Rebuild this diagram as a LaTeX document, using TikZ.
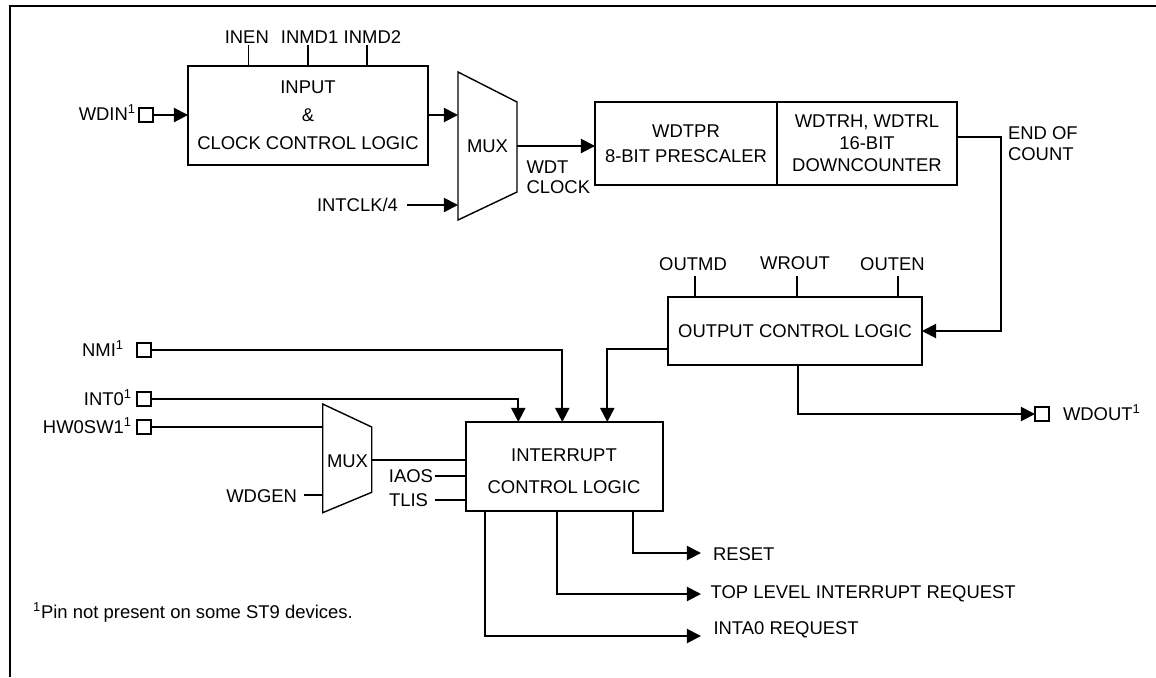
\documentclass[tikz,border=0pt]{standalone}
\usepackage{fontspec}
\setmainfont{Liberation Sans}
\usetikzlibrary{arrows.meta}
\begin{document}
\begin{tikzpicture}[x=0.02cm,y=-0.02cm,
  every node/.style={font=\fontsize{10.5}{12.6}\selectfont, inner sep=0pt, outer sep=0pt},
  wire/.style={line width=1.1pt},
  arr/.style={wire,-{Triangle[length=8pt,width=8pt]}},
  blk/.style={draw, line width=1.1pt, align=center},
  pinbox/.style={draw, line width=0.9pt, minimum size=0.28cm},
  muxshape/.style={draw, line width=0.8pt, line join=miter},
  lblr/.style={anchor=east},
  lbll/.style={anchor=west, align=left}]
\useasboundingbox (0,0) rectangle (1156,677);
% frame
\draw[line width=1.3pt] (10,677) -- (10,6) -- (1156,6);

% ---- blocks
\node[blk, minimum width=4.8cm, minimum height=1.98cm, font=\fontsize{10.5}{15.9}\selectfont] (inbox) at (308,115.5) {INPUT\\\&\\CLOCK CONTROL LOGIC};
\node[blk, minimum width=3.64cm, minimum height=1.66cm, font=\fontsize{10.5}{14.2}\selectfont] (pre) at (686,143.5) {WDTPR\\8-BIT PRESCALER};
\node[blk, minimum width=3.6cm, minimum height=1.66cm, font=\fontsize{10.5}{12.4}\selectfont] (cnt) at (867,143.5) {WDTRH, WDTRL\\16-BIT\\DOWNCOUNTER};
\node[blk, minimum width=5.08cm, minimum height=1.36cm] (out) at (795,331) {OUTPUT CONTROL LOGIC};
\node[blk, minimum width=3.94cm, minimum height=1.78cm] (icl) at (564.5,466.5) {};
\node[align=center, font=\fontsize{10.5}{18}\selectfont] (icltext) at (564,471) {INTERRUPT\\CONTROL LOGIC};

% ---- multiplexers
\coordinate (m1a) at (458,72);  \coordinate (m1b) at (517,102);
\coordinate (m1c) at (517,192); \coordinate (m1d) at (458,220);
\draw[muxshape] (m1a) -- (m1b) -- (m1c) -- (m1d) -- cycle;
\node (mux1) at (487.5,146) {MUX};
\coordinate (m2a) at (322.7,404);   \coordinate (m2b) at (371.7,427);
\coordinate (m2c) at (371.7,492.3); \coordinate (m2d) at (322.7,512.7);
\draw[muxshape] (m2a) -- (m2b) -- (m2c) -- (m2d) -- cycle;
\node (mux2) at (347.5,461.5) {MUX};

% ---- pins
\node[pinbox] (wdin) at (146,115) {};
\node[lblr] (wdinl) at (136,113) {WDIN\textsuperscript{1}};
\node[pinbox] (nmi) at (144,350) {};
\node[lblr] (nmil) at (124,348.5) {NMI\textsuperscript{1}};
\node[pinbox] (int0) at (144,399) {};
\node[lblr] (int0l) at (132,397.5) {INT0\textsuperscript{1}};
\node[pinbox] (hw) at (144,427) {};
\node[lblr] (hwl) at (132,425.5) {HW0SW1\textsuperscript{1}};
\node[pinbox] (wdout) at (1042,414) {};
\node[lbll] (wdoutl) at (1063,412.5) {WDOUT\textsuperscript{1}};

% ---- top control lines of input block
\node (inen) at (246.8,36.7) {INEN};
\node (inmd1) at (309.6,36.7) {INMD1};
\node (inmd2) at (372.4,36.7) {INMD2};
\coordinate (inenT) at (248.5,45);
\coordinate (inmd1T) at (308,45);
\coordinate (inmd2T) at (367.4,45);
\draw[wire] (inenT) -- (inenT |- inbox.north);
\draw[wire] (inmd1T) -- (inmd1T |- inbox.north);
\draw[wire] (inmd2T) -- (inmd2T |- inbox.north);

% ---- input path
\draw[arr] (wdin.east) -- (inbox.west |- wdin.east);
\draw[arr] (inbox.east |- 0,115) -- (m1a |- 0,115);
\node[lblr] (intclk) at (398,205) {INTCLK/4};
\coordinate (intclkE) at (407,205);
\draw[arr] (intclkE) -- (m1a |- intclkE);
\coordinate (m1o) at (517,146);
\draw[arr] (m1o) -- (pre.west |- m1o);
\node[lbll, font=\fontsize{10.5}{11.4}\selectfont] (wdtclk) at (526.5,177) {WDT\\CLOCK};

% ---- end of count
\coordinate (eoc) at (1001,137);
\draw[arr] (cnt.east |- eoc) -- (eoc) |- (out.east);
\node[lbll, font=\fontsize{10.5}{12}\selectfont] (eocl) at (1008,143.5) {END OF\\COUNT};

% ---- output control inputs
\node (outmd) at (693,264.5) {OUTMD};
\node (wrout) at (795,263) {WROUT};
\node (outen) at (892.5,264) {OUTEN};
\coordinate (outmdT) at (695,276);
\coordinate (wroutT) at (796.7,276);
\coordinate (outenT) at (897.7,276);
\draw[wire] (outmdT) -- (outmdT |- out.north);
\draw[wire] (wroutT) -- (wroutT |- out.north);
\draw[wire] (outenT) -- (outenT |- out.north);

% ---- output control outputs
\coordinate (o1) at (607.3,349);
\draw[arr] (out.west |- o1) -- (o1) -- (o1 |- icl.north);
\coordinate (o2) at (798.3,414);
\draw[arr] (o2 |- out.south) -- (o2) -- (wdout.west);

% ---- interrupt inputs
\coordinate (nmiX) at (562.3,350);
\draw[arr] (nmi.east) -- (nmiX) -- (nmiX |- icl.north);
\coordinate (int0X) at (518.3,399);
\draw[arr] (int0.east) -- (int0X) -- (int0X |- icl.north);
\draw[wire] (hw.east) -- (m2a |- hw.east);
\node[lblr] (wdgen) at (297,496) {WDGEN};
\coordinate (wdgenE) at (304,495);
\draw[wire] (wdgenE) -- (m2a |- wdgenE);
\coordinate (m2o) at (371.7,460);
\draw[wire] (m2o) -- (icl.west |- m2o);
\node[lblr] (iaos) at (433,476) {IAOS};
\coordinate (iaosE) at (435,476);
\draw[wire] (iaosE) -- (icl.west |- iaosE);
\node[lblr] (tlis) at (428,500) {TLIS};
\coordinate (tlisE) at (435,500);
\draw[wire] (tlisE) -- (icl.west |- tlisE);

% ---- interrupt outputs
\coordinate (rsC) at (632.7,553);
\coordinate (rsT) at (701,553);
\draw[arr] (rsC |- icl.south) -- (rsC) -- (rsT);
\node[lbll] (reset) at (713,554) {RESET};
\coordinate (tlC) at (557,594);
\coordinate (tlT) at (701,594);
\draw[arr] (tlC |- icl.south) -- (tlC) -- (tlT);
\node[lbll] (tlir) at (710.6,594) {TOP LEVEL INTERRUPT REQUEST};
\coordinate (iaC) at (485.4,636);
\coordinate (iaT) at (701,636);
\draw[arr] (iaC |- icl.south) -- (iaC) -- (iaT);
\node[lbll] (inta) at (713.5,630) {INTA0 REQUEST};

% ---- footnote
\node[lbll] (note) at (33,612) {\textsuperscript{1}Pin not present on some ST9 devices.};
\end{tikzpicture}
\end{document}
